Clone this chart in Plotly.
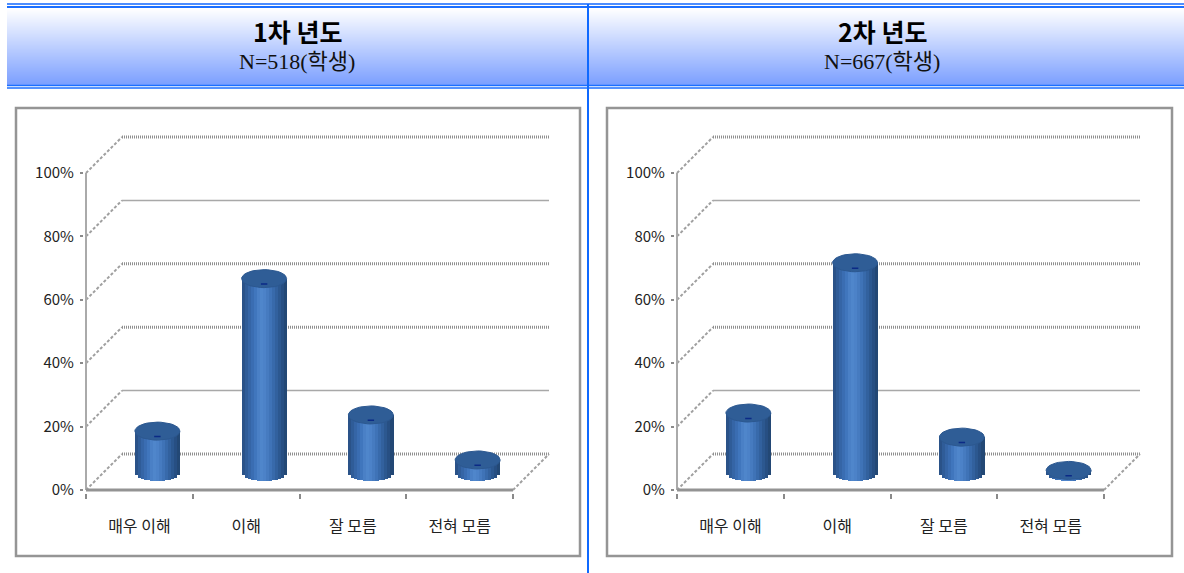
import math
import plotly.graph_objects as go

categories = ["매우 이해", "이해", "잘 모름", "전혀 모름"]
values_year1 = [12.9, 61.0, 18.0, 3.8]
values_year2 = [18.6, 66.0, 11.0, 0.5]
y_ticks = [0, 20, 40, 60, 80, 100]
y_labels = ["0%", "20%", "40%", "60%", "80%", "100%"]
titles = ["1차 년도", "2차 년도"]
subtitles = ["N=518(학생)", "N=667(학생)"]

W, H = 1184, 573
PX_X = 106.75
PX_Y = 3.17
DX = 36 / PX_X
DY = 36 / PX_Y
BAR_W = 45 / PX_X
RY = 9 / PX_Y
PAD_X = 0.02
PAD_Y = 1.0
STRIP_COLORS = ["#2a5288", "#2f5c98", "#3565a6", "#3a6db2", "#4076bd", "#4a80c6",
                "#4f86cb", "#4c82c8", "#467bc0", "#3f73b7", "#386aab", "#32619e",
                "#2c5890", "#274f83", "#234875"]
GRID_STYLE = {0: "hatch", 20: "solid", 40: "hatch", 60: "hatch", 80: "solid", 100: "hatch"}


def fx(p):
    return p / W


def fy(p):
    return 1 - p / H


fig = go.Figure()
# grid axes, then overlaid axes for the cylinders so they sit above the grid lines
panels = [
    (values_year1, "x", "y", "x3", "y3"),
    (values_year2, "x2", "y2", "x4", "y4"),
]

shapes = []
# header gradient
top_c, bot_c = (255, 255, 255), (122, 158, 255)
for py in range(8, 86):
    t = (py - 8) / 77
    c = tuple(round(a + (b - a) * t) for a, b in zip(top_c, bot_c))
    shapes.append(dict(type="rect", xref="paper", yref="paper", layer="below",
                       x0=fx(7), x1=1, y0=fy(py), y1=fy(py + 1),
                       line_width=0, fillcolor="rgb(%d,%d,%d)" % c))
for py, col, wd in [(4, "#4d8dff", 2), (7, "#1c6fff", 2), (85.5, "#1c6fff", 1.5), (88, "#1c6fff", 1.5)]:
    shapes.append(dict(type="line", xref="paper", yref="paper", x0=fx(7), x1=1, y0=fy(py), y1=fy(py),
                       line=dict(color=col, width=wd)))
shapes.append(dict(type="line", xref="paper", yref="paper", x0=fx(588), x1=fx(588), y0=fy(4), y1=0,
                   line=dict(color="#0f69ff", width=2)))
# chart frames
for x0, x1 in [(16, 580), (607, 1172)]:
    shapes.append(dict(type="rect", xref="paper", yref="paper", x0=fx(x0), x1=fx(x1), y0=fy(108), y1=fy(556),
                       line=dict(color="#959595", width=2.5), fillcolor="rgba(0,0,0,0)"))

annotations = []
for i, cx in enumerate([297, 882]):
    annotations.append(dict(xref="paper", yref="paper", x=fx(cx), y=fy(31), text="<b>%s</b>" % titles[i],
                            xanchor="center", yanchor="middle",
                            showarrow=False, font=dict(family="Noto Sans CJK KR", size=25, color="#000")))
    annotations.append(dict(xref="paper", yref="paper", x=fx(cx), y=fy(62), text=subtitles[i],
                            xanchor="center", yanchor="middle",
                            showarrow=False, font=dict(family="Liberation Serif, Noto Sans CJK KR", size=22, color="#111")))

for vals, xa, ya, xb, yb in panels:
    n = len(categories)
    # side walls and back gridlines
    for v in y_ticks:
        style = GRID_STYLE[v]
        fig.add_trace(go.Scatter(x=[0, DX], y=[v, v + DY], mode="lines", xaxis=xa, yaxis=ya,
                                 line=dict(color="#a0a0a0", width=2, dash="3px,2px"), hoverinfo="skip"))
        if style == "hatch":
            line = dict(color="#8f8f8f", width=3, dash="1px,1px")
        else:
            line = dict(color="#a8a8a8", width=1.5)
        fig.add_trace(go.Scatter(x=[DX, n + DX], y=[v + DY, v + DY], mode="lines", xaxis=xa, yaxis=ya,
                                 line=line, hoverinfo="skip"))
    fig.add_trace(go.Scatter(x=[n, n + DX], y=[0, DY], mode="lines", xaxis=xa, yaxis=ya,
                             line=dict(color="#a0a0a0", width=2, dash="3px,2px"), hoverinfo="skip"))
    fig.add_trace(go.Scatter(x=[0, 0], y=[0, 100], mode="lines", xaxis=xa, yaxis=ya,
                             line=dict(color="#aaaaaa", width=2), hoverinfo="skip"))
    fig.add_trace(go.Scatter(x=[0, n], y=[0, 0], mode="lines", xaxis=xa, yaxis=ya,
                             line=dict(color="#939393", width=3), hoverinfo="skip"))
    # cylinders: body strips
    centres = [i + 0.5 + DX / 2 for i in range(n)]
    floor = DY / 2
    ns = len(STRIP_COLORS)
    sw = BAR_W / ns
    for k, col in enumerate(STRIP_COLORS):
        t = (k + 0.5) / ns * 2 - 1
        drop = RY * math.sqrt(1 - t * t)
        fig.add_trace(go.Bar(x=[c + t * BAR_W / 2 for c in centres],
                             y=[v + drop for v in vals],
                             base=[floor - drop] * n, width=sw * 1.15,
                             marker=dict(color=col, line_width=0), xaxis=xb, yaxis=yb, hoverinfo="skip"))
    # caps
    for c, v in zip(centres, vals):
        ex, ey = [], []
        for a in range(41):
            th = 2 * math.pi * a / 40
            ex.append(c + BAR_W / 2 * math.cos(th))
            ey.append(floor + v + RY * math.sin(th))
        fig.add_trace(go.Scatter(x=ex, y=ey, mode="lines", fill="toself", fillcolor="#2f5d96",
                                 line=dict(color="#2c5890", width=1), xaxis=xb, yaxis=yb, hoverinfo="skip"))
        fig.add_trace(go.Scatter(x=[c - 0.03, c + 0.03], y=[floor + v - RY * 0.6] * 2, mode="lines",
                                 line=dict(color="#0b2a86", width=1.5), xaxis=xb, yaxis=yb, hoverinfo="skip"))

ytickfont = dict(family="Noto Sans CJK KR", size=15, color="#222")
xtickfont = dict(family="Noto Sans CJK KR", size=16, color="#222")
x_range = [-PAD_X, 4 + DX + PAD_X]
y_range = [-PAD_Y, 355 / PX_Y + PAD_Y]
y_domain = [fy(490 + PAD_Y * PX_Y), fy(135 - PAD_Y * PX_Y)]
layout_axes = {}
for shift, sx, ox in [(0, "", "3"), (591, "2", "4")]:
    x_domain = [fx(86 + shift - PAD_X * PX_X), fx(549 + shift + PAD_X * PX_X)]
    layout_axes["xaxis" + sx] = dict(
        domain=x_domain, range=x_range, anchor="y" + sx, automargin=False,
        tickvals=[i + 0.5 for i in range(4)], ticktext=categories, ticks="", showgrid=False, zeroline=False,
        showline=False, tickfont=xtickfont, ticklabelstandoff=22, fixedrange=True,
        minor=dict(tickvals=[0, 1, 2, 3, 4], ticks="outside", ticklen=5, tickwidth=1.5, tickcolor="#8a8a8a", showgrid=False),
    )
    layout_axes["yaxis" + sx] = dict(
        domain=y_domain, range=y_range, anchor="x" + sx, automargin=False,
        tickvals=y_ticks, ticktext=y_labels, ticks="outside", ticklen=3, tickwidth=1.5, tickcolor="#8a8a8a",
        showgrid=False, zeroline=False, showline=False, tickfont=ytickfont, fixedrange=True, ticklabelstandoff=3,
    )
    layout_axes["xaxis" + ox] = dict(
        domain=x_domain, range=x_range, overlaying="x" + sx, anchor="y" + ox, visible=False, automargin=False, fixedrange=True,
    )
    layout_axes["yaxis" + ox] = dict(
        domain=y_domain, range=y_range, overlaying="y" + sx, anchor="x" + ox, visible=False, automargin=False, fixedrange=True,
    )

fig.update_layout(width=W, height=H, margin=dict(l=0, r=0, t=0, b=0), paper_bgcolor="white", plot_bgcolor="rgba(0,0,0,0)",
                  showlegend=False, barmode="overlay", bargap=0, shapes=shapes, annotations=annotations, **layout_axes)
fig.write_html("out.html", config={"displayModeBar": False}, post_script="document.body.style.margin='0';")
